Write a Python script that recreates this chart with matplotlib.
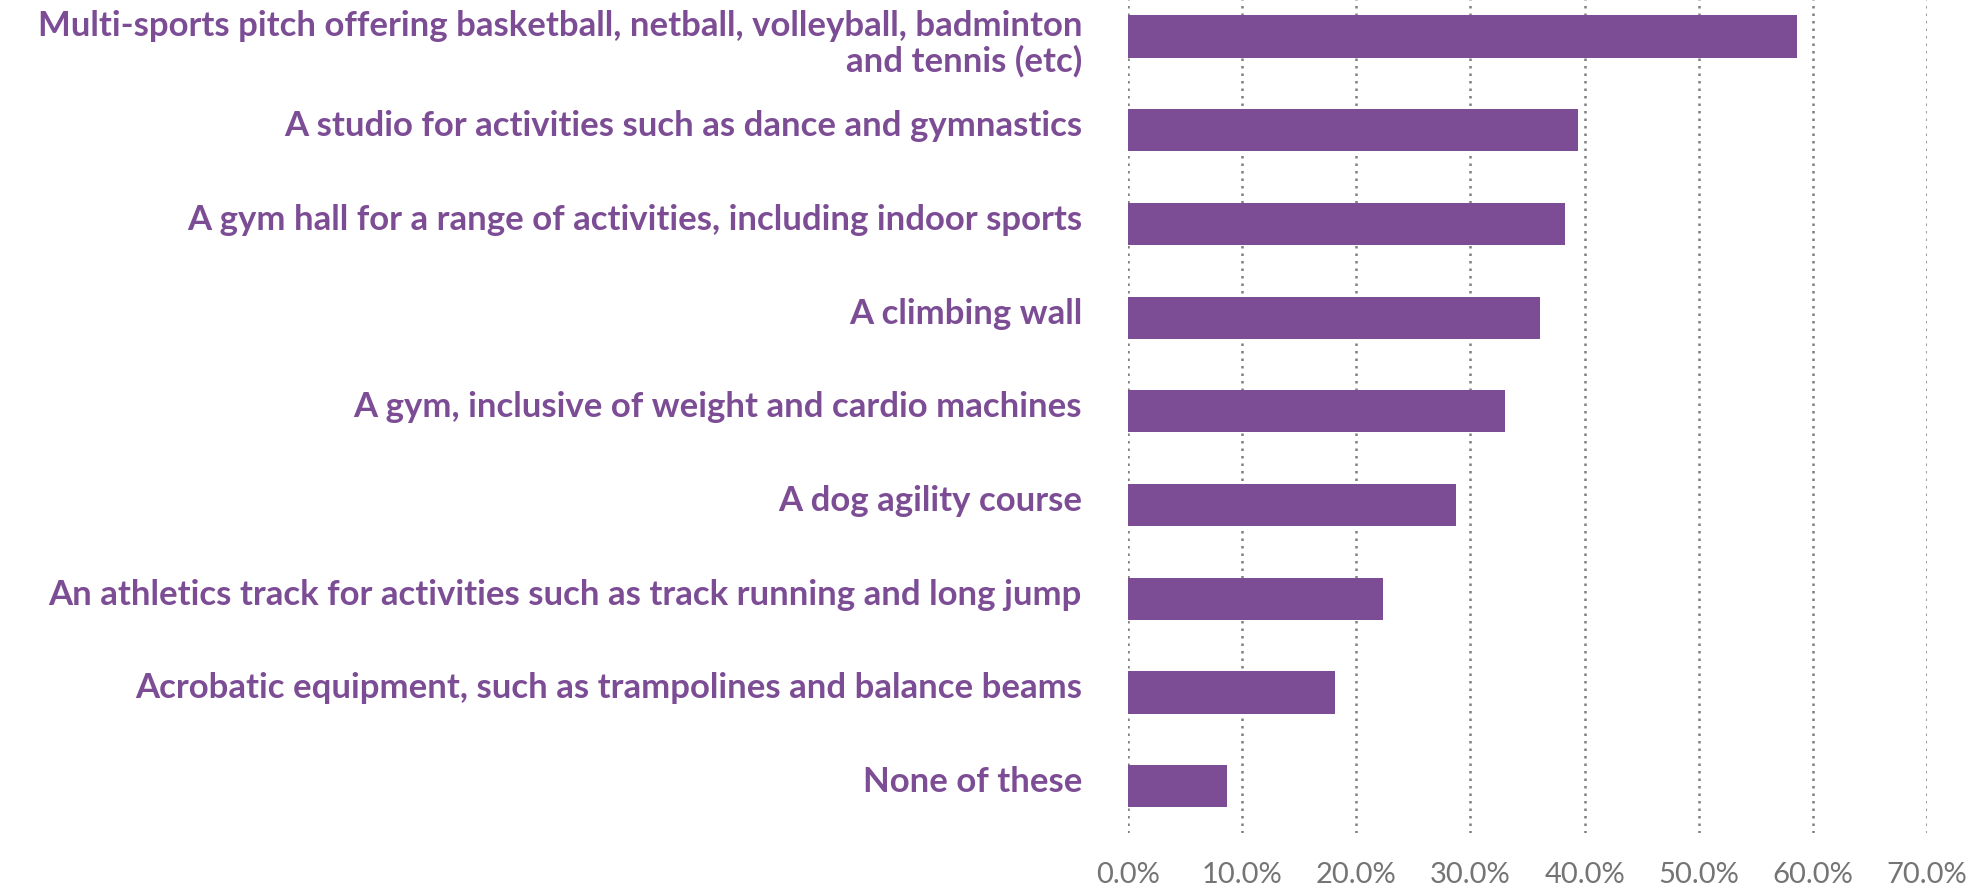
import matplotlib
matplotlib.use("Agg")
import matplotlib.pyplot as plt
import matplotlib.transforms as mtransforms
from matplotlib.ticker import PercentFormatter

categories = [
    "Multi-sports pitch offering basketball, netball, volleyball, badminton\nand tennis (etc)",
    "A studio for activities such as dance and gymnastics",
    "A gym hall for a range of activities, including indoor sports",
    "A climbing wall",
    "A gym, inclusive of weight and cardio machines",
    "A dog agility course",
    "An athletics track for activities such as track running and long jump",
    "Acrobatic equipment, such as trampolines and balance beams",
    "None of these",
]
values = [58.6, 39.4, 38.3, 36.1, 33.0, 28.7, 22.3, 18.1, 8.7]
x_ticks = [0, 10, 20, 30, 40, 50, 60, 70]

purple = "#7C4D95"
grey = "#747474"

fig = plt.figure(figsize=(19.8, 8.96), dpi=100)
W, H = 1980, 896
left_px, right_px = 1128, 1927
top_px, bottom_px = 0, 833
ax = fig.add_axes([left_px / W, 1 - bottom_px / H, (right_px - left_px) / W, (bottom_px - top_px) / H])

ypos = list(range(len(categories)))
ax.barh(ypos, values, height=0.45, color=purple, zorder=3)

ax.set_xlim(0, 70)
ax.set_ylim(len(categories) - 0.5, -0.39)
ax.set_xticks(x_ticks)
ax.xaxis.set_major_formatter(PercentFormatter(decimals=1))
ax.set_yticks(ypos)
ax.set_yticklabels([])

blend = mtransforms.blended_transform_factory(ax.transAxes, ax.transData)
for y, lab in zip(ypos, categories):
    dy = -7 if "\n" in lab else 4
    tr = blend + mtransforms.ScaledTranslation(-46 / 100, dy / 100, fig.dpi_scale_trans)
    ax.text(0, y, lab, transform=tr, ha="right", va="center", multialignment="right",
            fontfamily="Lato", fontweight="bold", fontsize=25, color=purple,
            linespacing=1.13, clip_on=False)

for lab in ax.get_xticklabels():
    lab.set_fontfamily("Lato")
    lab.set_fontsize(21)
    lab.set_color(grey)
ax.tick_params(axis="y", length=0)
ax.tick_params(axis="x", length=0, pad=21)

for s in ax.spines.values():
    s.set_visible(False)
ax.grid(axis="x", color="#808080", linestyle=(0, (1, 2.0)), linewidth=1.8, zorder=0)
ax.grid(axis="y", visible=False)
ax.set_facecolor("white")
fig.patch.set_facecolor("white")

fig.savefig("out.png", dpi=100, facecolor="white")
